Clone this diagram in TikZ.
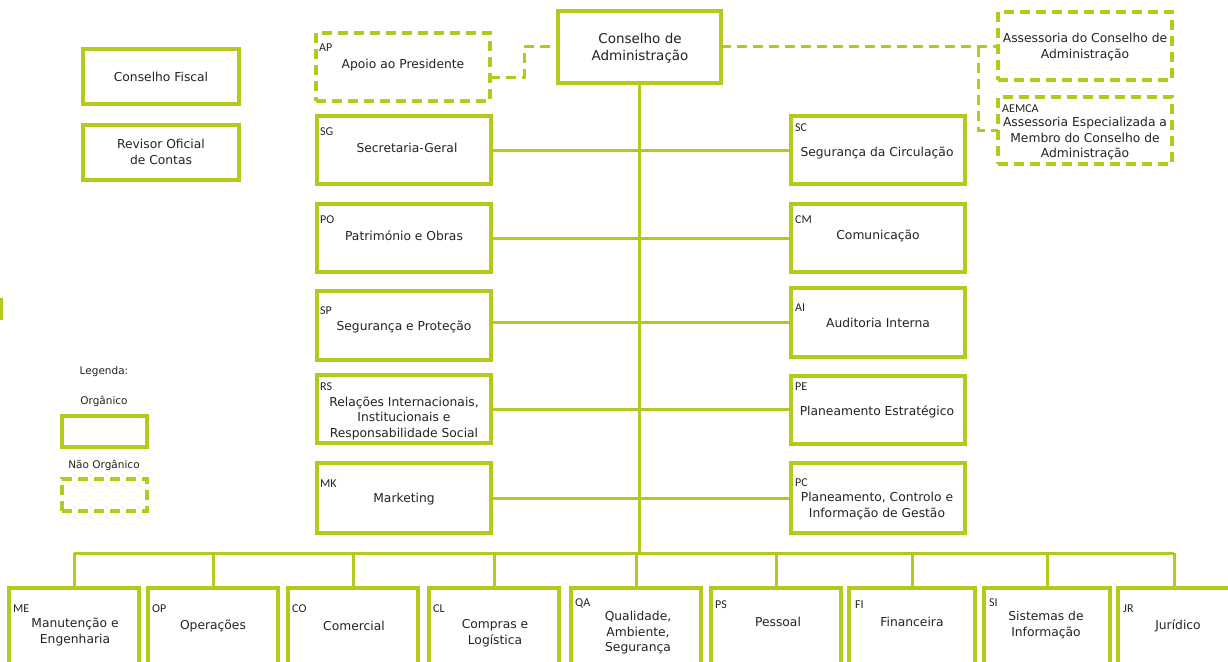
\documentclass[tikz,border=0pt]{standalone}
\usepackage{fontspec}
\setmainfont{DejaVu Sans}
\newfontfamily\abbrfont{Carlito}
\definecolor{lime}{RGB}{181,201,28}
\definecolor{ink}{RGB}{35,35,35}
\begin{document}
\begin{tikzpicture}[x=1pt,y=-1pt,
 obox/.style={draw=lime,line width=3.3pt,inner sep=0pt,outer sep=0pt},
 nbox/.style={obox,dash pattern=on 10pt off 6pt},
 conn/.style={draw=lime,line width=3pt},
 dconn/.style={conn,dash pattern=on 10pt off 6pt},
 txt/.style={text=ink,font=\fontsize{12.3}{15.5}\selectfont,align=center,inner sep=0pt},
 abbr/.style={text=ink,font=\abbrfont\fontsize{12}{13}\selectfont,anchor=west,inner sep=0pt},
 leg/.style={text=ink,font=\fontsize{10.5}{13}\selectfont,inner sep=0pt}]
\useasboundingbox[fill=white] (0,0) rectangle (1228,661);

% top
\node[obox,minimum width=163pt,minimum height=72pt] (ca) at (639.5,47) {};
\node[nbox,minimum width=174pt,minimum height=68pt] (ap) at (403,67) {};
\node[nbox,minimum width=174pt,minimum height=68pt] (aca) at (1085,46) {};
\node[nbox,minimum width=174pt,minimum height=67pt] (aemca) at (1085,130.5) {};
\node[obox,minimum width=156pt,minimum height=55pt] (cf) at (161,76.5) {};
\node[obox,minimum width=156pt,minimum height=55pt] (roc) at (161,152.5) {};

% left column
\node[obox,minimum width=174pt,minimum height=68pt] (sg) at (404,150) {};
\node[obox,minimum width=174pt,minimum height=68pt] (po) at (404,238) {};
\node[obox,minimum width=174pt,minimum height=69pt] (sp) at (404,325.5) {};
\node[obox,minimum width=174pt,minimum height=68pt] (rs) at (404,409) {};
\node[obox,minimum width=174pt,minimum height=70pt] (mk) at (404,498) {};
% right column
\node[obox,minimum width=174pt,minimum height=68pt] (sc) at (878,150) {};
\node[obox,minimum width=174pt,minimum height=68pt] (cm) at (878,238) {};
\node[obox,minimum width=174pt,minimum height=69pt] (ai) at (878,322.5) {};
\node[obox,minimum width=174pt,minimum height=68pt] (pe) at (878,410) {};
\node[obox,minimum width=174pt,minimum height=70pt] (pc) at (878,498) {};

% legend
\node[obox,minimum width=85pt,minimum height=31pt] (lorg) at (104.5,431.5) {};
\node[nbox,minimum width=85pt,minimum height=32pt] (lnorg) at (104.5,495) {};

% bottom row
\node[obox,minimum width=130pt,minimum height=101pt] (me) at (74,638.5) {};
\node[obox,minimum width=130pt,minimum height=101pt] (op) at (213,638.5) {};
\node[obox,minimum width=130pt,minimum height=101pt] (co) at (353,638.5) {};
\node[obox,minimum width=130pt,minimum height=101pt] (cl) at (494,638.5) {};
\node[obox,minimum width=130pt,minimum height=101pt] (qa) at (636,638.5) {};
\node[obox,minimum width=130pt,minimum height=101pt] (ps) at (776,638.5) {};
\node[obox,minimum width=126pt,minimum height=101pt] (fi) at (912,638.5) {};
\node[obox,minimum width=126pt,minimum height=101pt] (si) at (1047,638.5) {};
\node[obox,minimum width=112pt,minimum height=101pt] (jr) at (1174,638.5) {};

% connectors
\coordinate (apj) at (524,77);
\draw[dconn] (ap.east |- apj) -- (apj) -- (apj |- ca.west) -- (ca.west);
\coordinate (rj) at (978,47);
\draw[dconn] (ca.east) -- (aca.west |- ca.east);
\draw[dconn] (rj) -- (rj |- aemca.west) -- (aemca.west);

\coordinate (busL) at (74,553);
\coordinate (busR) at (1174,553);
\draw[conn] (ca.south) -- (ca.south |- busL);
\draw[conn] (busL) -- (busR);
\draw[conn] (sg.east) -- (sc.west);
\draw[conn] (po.east) -- (cm.west);
\draw[conn] (ai.west -| sp.east) -- (ai.west);
\draw[conn] (rs.east) -- (rs.east -| pe.west);
\draw[conn] (mk.east) -- (pc.west);
\foreach \b in {me,op,co,cl,qa,ps,fi,si,jr}{
  \draw[conn] (\b.north) -- (\b.north |- busL);
}
\coordinate (m1) at (1,298);
\coordinate (m2) at (1,320);
\draw[conn] (m1) -- (m2);

% texts
\node[txt,font=\fontsize{13.5}{17}\selectfont] (tca) at (640,48) {Conselho de\\Administração};
\node[abbr] (cap) at (319,48) {AP};
\node[txt] (tap) at (403,65) {Apoio ao Presidente};
\node[txt] (taca) at (1085,47) {Assessoria do Conselho de\\Administração};
\node[abbr] (caemca) at (1002,109) {AEMCA};
\node[txt] (taemca) at (1085,139) {Assessoria Especializada a\\Membro do Conselho de\\Administração};
\node[txt] (tcf) at (161,77) {Conselho Fiscal};
\node[txt] (troc) at (161,152) {Revisor Oficial\\de Contas};

\node[abbr] (csg) at (320,132) {SG};
\node[txt] (tsg) at (407,148) {Secretaria-Geral};
\node[abbr] (cpo) at (320,220) {PO};
\node[txt] (tpo) at (404,236) {Património e Obras};
\node[abbr] (csp) at (320,311) {SP};
\node[txt] (tsp) at (404,327) {Segurança e Proteção};
\node[abbr] (crs) at (320,387) {RS};
\node[txt] (trs) at (404,418) {Relações Internacionais,\\Institucionais e\\Responsabilidade Social};
\node[abbr] (cmk) at (320,484) {MK};
\node[txt] (tmk) at (404,499) {Marketing};

\node[abbr] (csc) at (795,128) {SC};
\node[txt] (tsc) at (877,153) {Segurança da Circulação};
\node[abbr] (ccm) at (795,220) {CM};
\node[txt] (tcm) at (878,236) {Comunicação};
\node[abbr] (cai) at (795,308) {AI};
\node[txt] (tai) at (878,323) {Auditoria Interna};
\node[abbr] (cpe) at (795,387) {PE};
\node[txt] (tpe) at (877,412) {Planeamento Estratégico};
\node[abbr] (cpc) at (795,483) {PC};
\node[txt] (tpc) at (877,506) {Planeamento, Controlo e\\Informação de Gestão};

\node[leg] (lg1) at (104,372) {Legenda:};
\node[leg] (lg2) at (104,401) {Orgânico};
\node[leg] (lg3) at (104,465) {Não Orgânico};

\node[abbr] (cme) at (13,609) {ME};
\node[txt] (tme) at (75,632) {Manutenção e\\Engenharia};
\node[abbr] (cop) at (152,609) {OP};
\node[txt] (top) at (213,626) {Operações};
\node[abbr] (cco) at (292,609) {CO};
\node[txt] (tco) at (354,626) {Comercial};
\node[abbr] (ccl) at (433,609) {CL};
\node[txt] (tcl) at (495,633) {Compras e\\Logística};
\node[abbr] (cqa) at (575,603) {QA};
\node[txt] (tqa) at (638,633) {Qualidade,\\Ambiente,\\Segurança};
\node[abbr] (cps) at (715,605) {PS};
\node[txt] (tps) at (778,622) {Pessoal};
\node[abbr] (cfi) at (855,605) {FI};
\node[txt] (tfi) at (912,622) {Financeira};
\node[abbr] (csi) at (989,603) {SI};
\node[txt] (tsi) at (1046,625) {Sistemas de\\Informação};
\node[abbr] (cjr) at (1123,609) {JR};
\node[txt] (tjr) at (1178,626) {Jurídico};
\end{tikzpicture}
\end{document}
